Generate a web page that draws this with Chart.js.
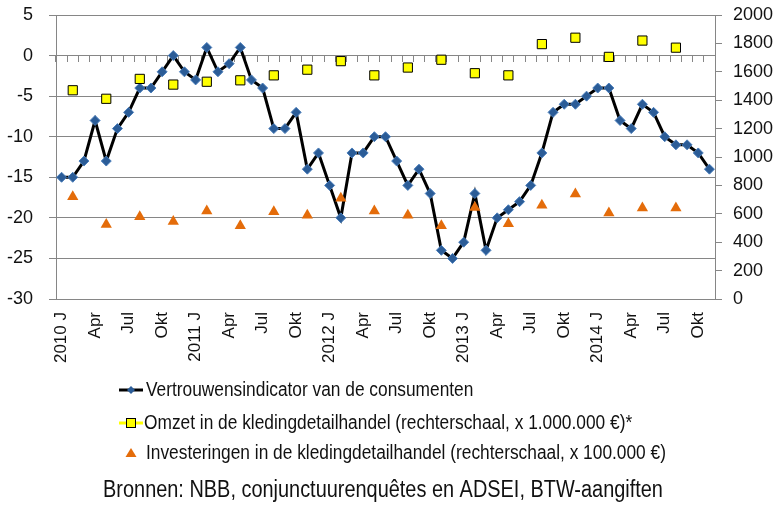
<!DOCTYPE html>
<html>
<head>
<meta charset="utf-8">
<script src="https://cdn.jsdelivr.net/npm/chart.js@4/dist/chart.umd.min.js"></script>
<style>
  html, body { margin: 0; padding: 0; background: #fff; }
  #wrap { width: 774px; height: 505px; }
</style>
</head>
<body>
<div id="wrap"><canvas id="grafiek" width="774" height="505"></canvas></div>
<script>
// geen smal lettertype beschikbaar -> Liberation Sans, horizontaal wat ingedrukt waar we zelf tekenen
const LETTER = "'Liberation Sans', Arial, sans-serif";
const SMAL_FACTOR = 0.866;
const GRIJS = '#868686';

const jaren   = [2010, 2011, 2012, 2013, 2014];
const maanden = ['J', 'Feb', 'Mrt', 'Apr', 'Mei', 'Jun', 'Jul', 'Aug', 'Sep', 'Okt', 'Nov', 'Dec'];
const aantalMaanden = 59; // jan 2010 - nov 2014

// vertrouwensindicator van de consumenten (maandelijks)
const vertrouwen = [
  -15, -15, -13, -8, -13, -9, -7, -4, -4, -2, 0, -2,
  -3, 1, -2, -1, 1, -3, -4, -9, -9, -7, -14, -12,
  -16, -20, -12, -12, -10, -10, -13, -16, -14, -17, -24, -25,
  -23, -17, -24, -20, -19, -18, -16, -12, -7, -6, -6, -5,
  -4, -4, -8, -9, -6, -7, -10, -11, -11, -12, -14
];
// omzet kledingdetailhandel (x 1.000.000 €), per kwartaal, middelste maand
const omzet = [
  1470, 1410, 1550, 1510,
  1530, 1540, 1575, 1615,
  1675, 1575, 1630, 1685,
  1590, 1575, 1795, 1840,
  1705, 1820, 1770
];
// investeringen kledingdetailhandel (x 100.000 €), per kwartaal
const investeringen = [
  720, 525, 580, 545,
  620, 515, 615, 590,
  710, 620, 590, 515,
  645, 530, 660, 740,
  605, 640, 640
];

const labels = [];
for (let i = 0; i < aantalMaanden; i++) {
  const m = i % 12;
  labels.push(m === 0 ? jaren[i / 12] + ' J' : maanden[m]);
}
// kwartaalcijfers op de middelste maand van elk kwartaal
const perKwartaal = arr => labels.map((_, i) => (i % 3 === 1 ? (arr[(i - 1) / 3] ?? null) : null));

const namen = [
  'Vertrouwensindicator van de consumenten',
  'Omzet in de kledingdetailhandel (rechterschaal, x 1.000.000 €)*',
  'Investeringen in de kledingdetailhandel (rechterschaal, x 100.000 €)'
];
const bron = 'Bronnen: NBB, conjunctuurenquêtes en ADSEI, BTW-aangiften';

function smalleTekst(ctx, tekst, x, y, align) {
  ctx.save();
  ctx.translate(x, y);
  ctx.scale(SMAL_FACTOR, 1);
  ctx.textAlign = align;
  ctx.fillText(tekst, 0, 0);
  ctx.restore();
}

// legende + bron onderaan, links uitgelijnd zoals in het origineel
const legendePlugin = {
  id: 'legende',
  afterDraw(chart) {
    const { ctx } = chart;
    const ds = chart.data.datasets;
    const x0 = 119, x1 = 143, xm = 131, tx = 146;
    const rijen = [390, 423, 453];
    ctx.save();
    ctx.textBaseline = 'middle';
    ctx.font = '20px ' + LETTER;

    // rij 1: lijn met ruit
    let y = rijen[0];
    ctx.strokeStyle = '#000'; ctx.lineWidth = 3;
    ctx.beginPath(); ctx.moveTo(x0, y); ctx.lineTo(x1, y); ctx.stroke();
    ctx.fillStyle = ds[0].pointBackgroundColor;
    ctx.beginPath(); ctx.moveTo(xm, y - 4); ctx.lineTo(xm + 4, y); ctx.lineTo(xm, y + 4); ctx.lineTo(xm - 4, y); ctx.closePath(); ctx.fill();
    ctx.fillStyle = '#111';
    smalleTekst(ctx, ds[0].label, tx, y, 'left');

    // rij 2: gele lijn met vierkant
    y = rijen[1];
    ctx.strokeStyle = '#FFFF00'; ctx.lineWidth = 3;
    ctx.beginPath(); ctx.moveTo(x0, y); ctx.lineTo(x1, y); ctx.stroke();
    ctx.fillStyle = '#FFFF00'; ctx.strokeStyle = '#000'; ctx.lineWidth = 1;
    ctx.fillRect(xm - 4.5, y - 4.5, 9, 9); ctx.strokeRect(xm - 4.5, y - 4.5, 9, 9);
    ctx.fillStyle = '#111';
    smalleTekst(ctx, ds[1].label, tx - 2, y, 'left');

    // rij 3: driehoek
    y = rijen[2];
    ctx.fillStyle = ds[2].pointBackgroundColor;
    ctx.beginPath(); ctx.moveTo(xm, y - 5); ctx.lineTo(xm + 5.5, y + 4); ctx.lineTo(xm - 5.5, y + 4); ctx.closePath(); ctx.fill();
    ctx.fillStyle = '#111';
    smalleTekst(ctx, ds[2].label, tx, y, 'left');

    ctx.font = '23px ' + LETTER;
    smalleTekst(ctx, bron, 383, 491, 'center');
    ctx.restore();
  }
};

new Chart(document.getElementById('grafiek'), {
  type: 'line',
  plugins: [legendePlugin],
  data: {
    labels,
    datasets: [
      {
        label: namen[0], data: vertrouwen, xAxisID: 'x', yAxisID: 'y',
        borderColor: '#000', borderWidth: 3, tension: 0,
        pointStyle: 'rectRot', pointRadius: 5,
        pointBackgroundColor: '#2B5C97', pointBorderColor: '#4A7EBB', pointBorderWidth: 1,
        order: 3
      },
      {
        label: namen[1], data: perKwartaal(omzet), xAxisID: 'x', yAxisID: 'y2',
        showLine: false, pointStyle: 'rect', pointRadius: 6.5,
        pointBackgroundColor: '#FFFF00', pointBorderColor: '#000', pointBorderWidth: 1,
        order: 2
      },
      {
        label: namen[2], data: perKwartaal(investeringen), xAxisID: 'x', yAxisID: 'y2',
        showLine: false, pointStyle: 'triangle', pointRadius: 6.5,
        pointBackgroundColor: '#E46C0A', pointBorderColor: '#E46C0A', pointBorderWidth: 0,
        order: 1
      }
    ]
  },
  options: {
    responsive: false,
    animation: false,
    devicePixelRatio: 1,
    layout: { padding: { top: 15, left: 0, right: 0, bottom: 0 } },
    plugins: { legend: { display: false }, tooltip: { enabled: false } },
    scales: {
      x: {
        type: 'category', position: 'bottom', offset: true,
        grid: { display: false, drawTicks: false },
        border: { display: false },
        ticks: {
          autoSkip: false, minRotation: 90, maxRotation: 90, padding: 13,
          color: '#111', font: { family: LETTER, size: 17 },
          callback(v, i) { return i % 3 === 0 ? this.getLabelForValue(v) : ''; }
        },
        afterFit(s) { s.height = 206; }
      },
      // horizontale as op nul met maandstreepjes
      xas: {
        type: 'category', position: { y: 0 }, offset: true,
        grid: { offset: true, drawOnChartArea: false, drawTicks: true, tickLength: 6, color: GRIJS },
        border: { display: true, color: GRIJS },
        ticks: { display: false, autoSkip: false }
      },
      y: {
        position: 'left', min: -30, max: 5,
        grid: { color: GRIJS, tickLength: 7 },
        border: { color: GRIJS },
        ticks: { stepSize: 5, padding: 16, color: '#111', font: { family: LETTER, size: 18 } },
        afterFit(s) { s.width = 56; s.paddingTop = 0; s.paddingBottom = 0; }
      },
      y2: {
        position: 'right', min: 0, max: 2000,
        grid: { drawOnChartArea: false, tickLength: 7, color: GRIJS },
        border: { color: GRIJS },
        ticks: { stepSize: 200, padding: 11, color: '#111', font: { family: LETTER, size: 18 }, callback: v => String(v) },
        afterFit(s) { s.width = 59; s.paddingTop = 0; s.paddingBottom = 0; }
      }
    }
  }
});
</script>
</body>
</html>
